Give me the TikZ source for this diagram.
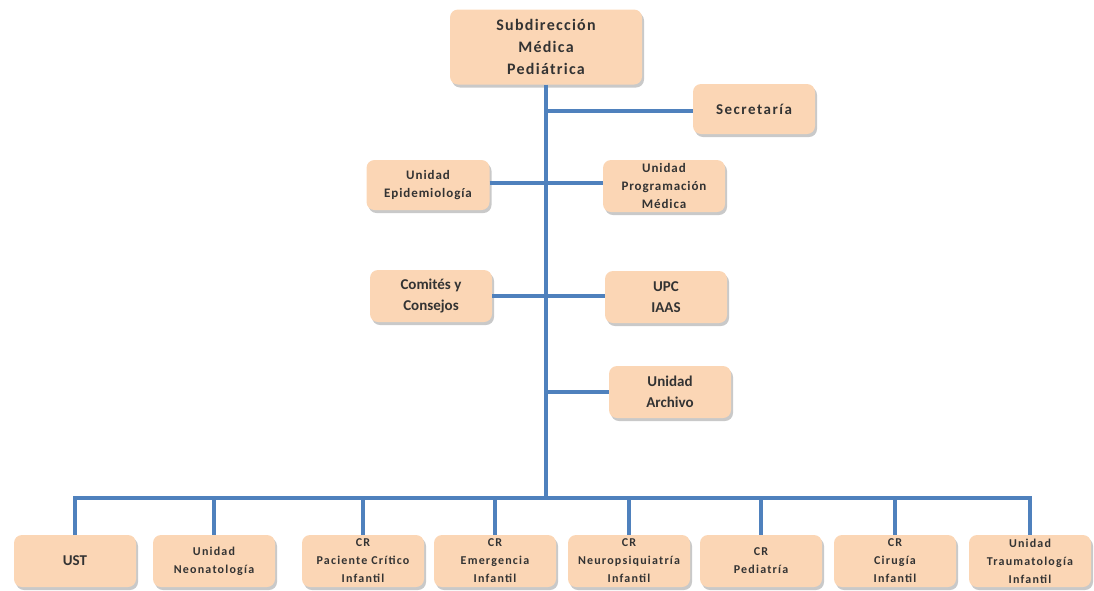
\documentclass[tikz,border=0pt]{standalone}
\usepackage{fontspec}
\setmainfont{Carlito}
\usetikzlibrary{shadows}
\definecolor{boxfill}{RGB}{251,214,181}
\definecolor{linkblue}{RGB}{79,129,189}
\tikzset{
	unit/.style={fill=boxfill, rounded corners=8pt, align=center, text=black!80,
		font=\bfseries\fontsize{12}{18}\selectfont\addfontfeature{LetterSpace=10},
		minimum width=122pt, minimum height=52pt, inner sep=1pt,
		drop shadow={shadow xshift=2pt, shadow yshift=-3pt, opacity=0.3, fill=black!70}},
	big/.style={font=\bfseries\fontsize{15}{21}\selectfont},
	mid/.style={font=\bfseries\fontsize{13}{18}\selectfont\addfontfeature{LetterSpace=7}},
	link/.style={draw=linkblue, line width=4pt}
}

\begin{document}
\begin{tikzpicture}[x=1pt, y=-1pt]
			%%%%% START %%%%%
			\useasboundingbox (0,0) rectangle (1094,590);
			
			\node[unit, minimum width=192pt, minimum height=75pt, font=\bfseries\fontsize{16}{22}\selectfont\addfontfeature{LetterSpace=8}] (subdir) at (546,47) {Subdirección\\Médica\\Pediátrica};
			\node[unit, minimum height=50pt, font=\bfseries\fontsize{15}{21}\selectfont\addfontfeature{LetterSpace=10}] (secre) at (754,109) {Secretaría};
			
			\node[unit, mid, minimum width=123pt, minimum height=50pt] (epid) at (428,185) {Unidad\\Epidemiología};
			\node[unit, mid] (prog) at (664,186) {Unidad\\Programación\\Médica};
			
			\node[unit, big] (comites) at (431,296) {Comités y\\Consejos};
			\node[unit, big] (upc) at (666,297) {UPC\\IAAS};
			\node[unit, big] (archivo) at (670,392) {Unidad\\Archivo};
			
			% bottom row
			\node[unit, big] (ust) at (75,561) {UST};
			\node[unit] (neo) at (214,561) {Unidad\\Neonatología};
			\node[unit] (critico) at (363,561) {CR\\Paciente Crítico\\Infantil};
			\node[unit] (emerg) at (495,561) {CR\\Emergencia\\Infantil};
			\node[unit] (neuro) at (629,561) {CR\\Neuropsiquiatría\\Infantil};
			\node[unit] (pedia) at (761,561) {CR\\Pediatría};
			\node[unit] (cirugia) at (895,561) {CR\\Cirugía\\Infantil};
			\node[unit] (trauma) at (1030,561) {Unidad\\Traumatología\\Infantil};
			
			\coordinate (busmid) at (546,498);
			
			\draw[link] (subdir.south) -- (busmid);
			\draw[link] (subdir.south |- 0,111) -- (secre.west |- 0,111);
			\draw[link] (epid.east |- 0,183) -- (prog.west |- 0,183);
			\draw[link] (comites.east |- 0,296) -- (upc.west |- 0,296);
			\draw[link] (busmid |- archivo.west) -- (archivo.west);
			
			\draw[link] (ust.north) -- (ust.north |- busmid) -- (trauma.north |- busmid) -- (trauma.north);
			\foreach \n in {neo,critico,emerg,neuro,pedia,cirugia}
				\draw[link] (\n.north |- busmid) -- (\n.north);
			
			%%%%% END %%%%%
\end{tikzpicture}
\end{document}
